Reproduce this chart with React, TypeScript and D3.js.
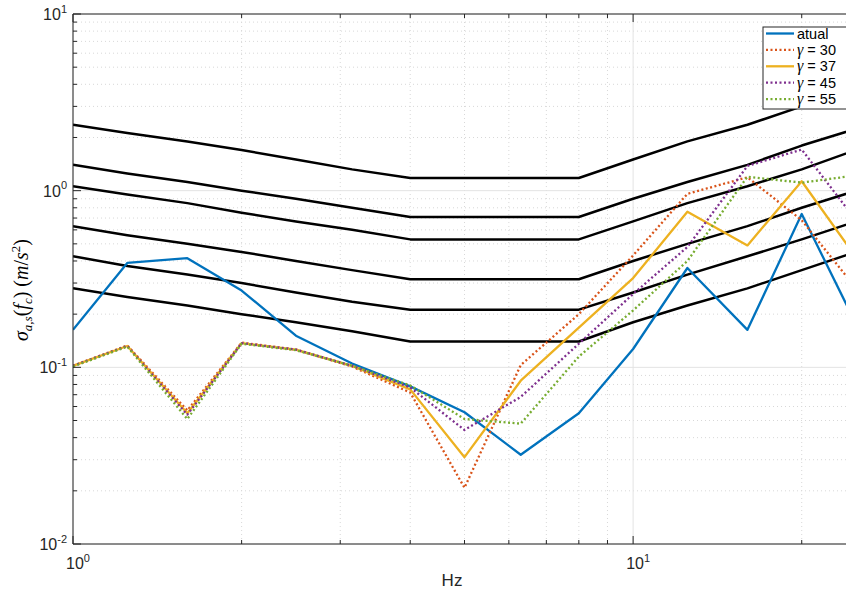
import * as d3 from "d3";

// third-octave centre frequencies (Hz)
const freqs = [1, 1.25, 1.6, 2, 2.5, 3.15, 4, 5, 6.3, 8, 10, 12.5, 16, 20, 25];

// ISO 2631 style limit curves (m/s^2)
const limit24h = [0.28, 0.25, 0.224, 0.2, 0.18, 0.16, 0.14, 0.14, 0.14, 0.14, 0.18, 0.224, 0.28, 0.355, 0.45];
const limit16h = [0.425, 0.375, 0.335, 0.3, 0.265, 0.235, 0.212, 0.212, 0.212, 0.212, 0.265, 0.335, 0.425, 0.53, 0.67];
const limit8h = [0.63, 0.56, 0.5, 0.45, 0.4, 0.355, 0.315, 0.315, 0.315, 0.315, 0.4, 0.5, 0.63, 0.8, 1.0];
const limit4h = [1.06, 0.95, 0.85, 0.75, 0.67, 0.6, 0.53, 0.53, 0.53, 0.53, 0.67, 0.85, 1.06, 1.32, 1.7];
const limit25h = [1.4, 1.25, 1.12, 1.0, 0.9, 0.8, 0.71, 0.71, 0.71, 0.71, 0.9, 1.12, 1.4, 1.8, 2.24];
const limit1h = [2.36, 2.12, 1.9, 1.7, 1.5, 1.32, 1.18, 1.18, 1.18, 1.18, 1.5, 1.9, 2.36, 3.0, 3.75];

// measured / simulated series
const atual = [0.163, 0.39, 0.415, 0.272, 0.151, 0.105, 0.078, 0.0557, 0.032, 0.055, 0.127, 0.365, 0.163, 0.738, 0.176];
const gamma30 = [0.102, 0.133, 0.057, 0.138, 0.126, 0.101, 0.072, 0.0208, 0.103, 0.2, 0.43, 0.96, 1.19, 0.68, 0.28];
const gamma37 = [0.102, 0.132, 0.055, 0.137, 0.126, 0.102, 0.075, 0.031, 0.084, 0.168, 0.32, 0.76, 0.49, 1.13, 0.42];
const gamma45 = [0.102, 0.132, 0.054, 0.137, 0.126, 0.102, 0.077, 0.0442, 0.068, 0.136, 0.26, 0.48, 1.38, 1.71, 0.68];
const gamma55 = [0.101, 0.131, 0.051, 0.136, 0.125, 0.102, 0.079, 0.051, 0.048, 0.115, 0.21, 0.4, 1.2, 1.11, 1.22];

const limits = [limit24h, limit16h, limit8h, limit4h, limit25h, limit1h];

const series = [
  { name: "atual", values: atual, color: "#0072BD", dotted: false },
  { name: "30", values: gamma30, color: "#D95319", dotted: true },
  { name: "37", values: gamma37, color: "#EDB120", dotted: false },
  { name: "45", values: gamma45, color: "#7E2F8E", dotted: true },
  { name: "55", values: gamma55, color: "#77AC30", dotted: true },
];

const W = 846;
const H = 591;
const left = 73;
const right = 856;
const top = 14;
const bottom = 544;
const sans = "'Liberation Sans', Arial, Helvetica, sans-serif";
const serif = "'Liberation Serif', 'Times New Roman', serif";

export default function App() {
  const x = d3.scaleLog().domain([1, 25]).range([left, right]);
  const y = d3.scaleLog().domain([0.01, 10]).range([bottom, top]);

  const line = (vals: number[]) =>
    d3
      .line<number>()
      .x((_, i) => x(freqs[i]))
      .y((d) => y(d))(vals) as string;

  const xMinor = [2, 3, 4, 5, 6, 7, 8, 9, 20];
  const xMajor = [1, 10];
  const yMajor = [0.01, 0.1, 1, 10];
  const yMinor: number[] = [];
  [0.01, 0.1, 1].forEach((dec) => {
    for (let k = 2; k <= 9; k++) yMinor.push(dec * k);
  });

  const axisColor = "#262626";

  return (
    <svg
      width={W}
      height={H}
      style={{ position: "absolute", left: 0, top: 0, background: "#fff" }}
    >
      <defs>
        <clipPath id="plot">
          <rect x={left} y={top} width={right - left} height={bottom - top} />
        </clipPath>
      </defs>
      <rect width={W} height={H} fill="#fff" />

      {/* grid */}
      <g>
        {xMinor.map((v) => (
          <line key={"xm" + v} x1={x(v)} x2={x(v)} y1={top} y2={bottom} stroke="#d8d8d8" strokeWidth={1} strokeDasharray="1,3" />
        ))}
        {yMinor.map((v) => (
          <line key={"ym" + v} x1={left} x2={right} y1={y(v)} y2={y(v)} stroke="#d8d8d8" strokeWidth={1} strokeDasharray="1,3" />
        ))}
        {xMajor.map((v) => (
          <line key={"xM" + v} x1={x(v)} x2={x(v)} y1={top} y2={bottom} stroke="#e3e3e3" strokeWidth={1} />
        ))}
        {yMajor.map((v) => (
          <line key={"yM" + v} x1={left} x2={right} y1={y(v)} y2={y(v)} stroke="#e3e3e3" strokeWidth={1} />
        ))}
      </g>

      {/* data */}
      <g clipPath="url(#plot)" fill="none" strokeLinejoin="round">
        {limits.map((vals, i) => (
          <path key={"lim" + i} d={line(vals)} stroke="#000" strokeWidth={2.5} />
        ))}
        {series.map((s) => (
          <path
            key={s.name}
            d={line(s.values)}
            stroke={s.color}
            strokeWidth={2.3}
            strokeDasharray={s.dotted ? "2,2.5" : undefined}
          />
        ))}
      </g>

      {/* axes box and ticks */}
      <g stroke={axisColor} strokeWidth={1}>
        <line x1={left} x2={right} y1={bottom} y2={bottom} />
        <line x1={left} x2={right} y1={top} y2={top} />
        <line x1={left} x2={left} y1={top} y2={bottom} />
        {xMinor.map((v) => (
          <g key={"xt" + v}>
            <line x1={x(v)} x2={x(v)} y1={bottom} y2={bottom - 4} />
            <line x1={x(v)} x2={x(v)} y1={top} y2={top + 4} />
          </g>
        ))}
        {xMajor.map((v) => (
          <g key={"xT" + v}>
            <line x1={x(v)} x2={x(v)} y1={bottom} y2={bottom - 8} />
            <line x1={x(v)} x2={x(v)} y1={top} y2={top + 8} />
          </g>
        ))}
        {yMinor.map((v) => (
          <line key={"yt" + v} x1={left} x2={left + 4} y1={y(v)} y2={y(v)} />
        ))}
        {yMajor.map((v) => (
          <line key={"yT" + v} x1={left} x2={left + 8} y1={y(v)} y2={y(v)} />
        ))}
      </g>

      {/* tick labels */}
      <g fontFamily={sans} fill={axisColor}>
        {yMajor.map((v) => {
          const e = Math.round(Math.log10(v));
          return (
            <text key={"yl" + v} x={left - 6} y={y(v) + 6} textAnchor="end" fontSize={16}>
              10<tspan fontSize={11} dy={-7.5}>{e}</tspan>
            </text>
          );
        })}
        {xMajor.map((v) => {
          const e = Math.round(Math.log10(v));
          return (
            <text key={"xl" + v} x={x(v) + 5} y={bottom + 25} textAnchor="middle" fontSize={16}>
              10<tspan fontSize={11} dy={-7.5}>{e}</tspan>
            </text>
          );
        })}
        <text x={452} y={586} textAnchor="middle" fontSize={17}>
          Hz
        </text>
      </g>

      {/* y axis label */}
      <text
        transform="translate(28,290) rotate(-90)"
        textAnchor="middle"
        fontFamily={serif}
        fontSize={20}
        fill="#000"
      >
        <tspan fontStyle="italic">σ</tspan>
        <tspan fontStyle="italic" fontSize={13} dy={4}>a,s</tspan>
        <tspan dy={-4}>(</tspan>
        <tspan fontStyle="italic">f</tspan>
        <tspan fontStyle="italic" fontSize={13} dy={4}>c</tspan>
        <tspan dy={-4}>) (</tspan>
        <tspan fontStyle="italic">m</tspan>
        <tspan>/</tspan>
        <tspan fontStyle="italic">s</tspan>
        <tspan fontSize={13} dy={-8}>2</tspan>
        <tspan dy={8}>)</tspan>
      </text>

      {/* legend */}
      <g>
        <rect x={763} y={27} width={100} height={82} fill="#fff" stroke={axisColor} strokeWidth={1} />
        {series.map((s, i) => {
          const ly = 33.5 + i * 16.4;
          return (
            <g key={"lg" + s.name}>
              <line
                x1={766}
                x2={794}
                y1={ly}
                y2={ly}
                stroke={s.color}
                strokeWidth={2.3}
                strokeDasharray={s.dotted ? "2,2.5" : undefined}
              />
              <text x={797} y={ly + 5} fontSize={14.5} fontFamily={sans} fill="#000">
                {s.name === "atual" ? (
                  "atual"
                ) : (
                  <>
                    <tspan fontFamily={serif} fontStyle="italic" fontSize={16}>γ</tspan>
                    <tspan> = {s.name}</tspan>
                  </>
                )}
              </text>
            </g>
          );
        })}
      </g>
    </svg>
  );
}
